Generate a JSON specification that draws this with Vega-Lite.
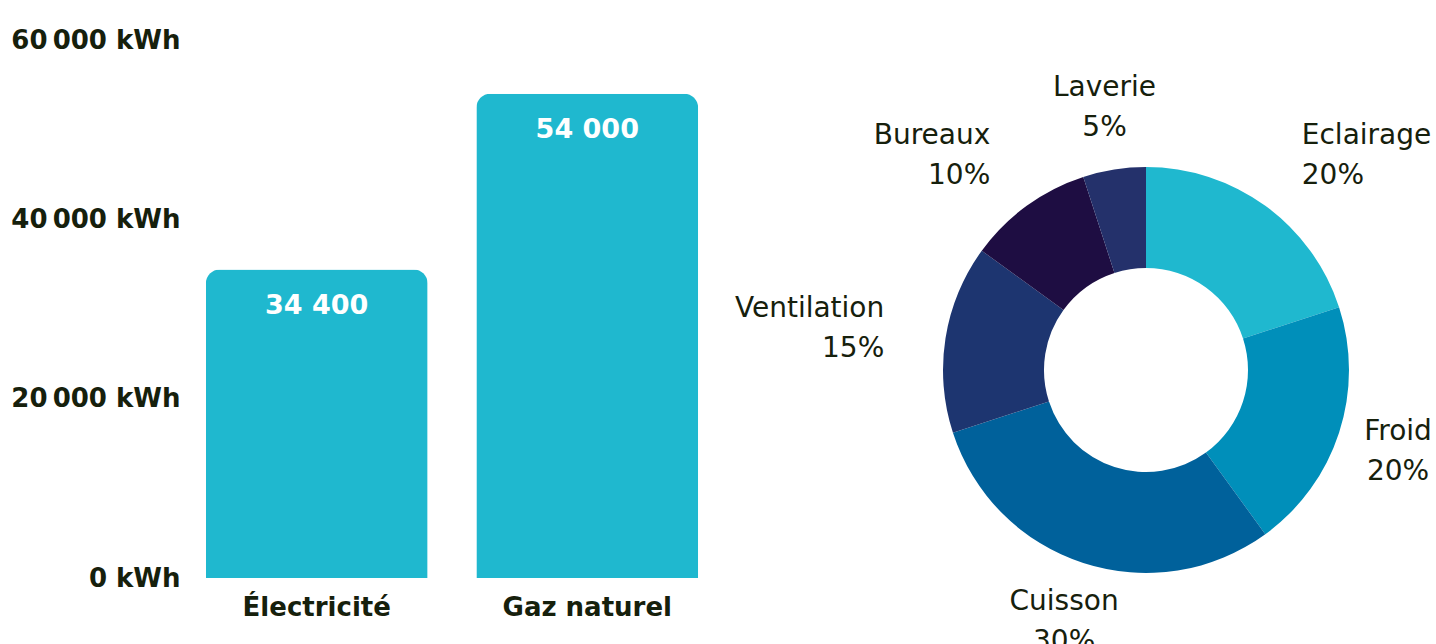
{
  "$schema": "https://vega.github.io/schema/vega-lite/v6.json",
  "background": "white",
  "padding": {"left": 10, "top": 27, "right": 0, "bottom": 0},
  "config": {"view": {"stroke": null}, "font": "DejaVu Sans"},
  "spacing": 137,
  "bounds": "flush",
  "datasets": {
    "energy": [
      {"source": "Électricité", "kwh": 34400},
      {"source": "Gaz naturel", "kwh": 54000}
    ],
    "usage": [
      {"usage": "Eclairage", "share": 20, "rank": 1},
      {"usage": "Froid", "share": 20, "rank": 2},
      {"usage": "Cuisson", "share": 30, "rank": 3},
      {"usage": "Ventilation", "share": 15, "rank": 4},
      {"usage": "Bureaux", "share": 10, "rank": 5},
      {"usage": "Laverie", "share": 5, "rank": 6}
    ]
  },
  "hconcat": [
    {
      "width": 514,
      "height": 538,
      "data": {"name": "energy"},
      "transform": [
        {"calculate": "replace(format(datum.kwh, ','), ',', ' ')", "as": "kwhLabel"}
      ],
      "encoding": {
        "x": {
          "field": "source",
          "type": "nominal",
          "sort": null,
          "scale": {"paddingInner": 0.18, "paddingOuter": 0.04},
          "axis": {
            "title": null,
            "labelAngle": 0,
            "labelFontSize": 26,
            "labelFontWeight": "bold",
            "labelColor": "#16200c",
            "labelPadding": 16,
            "ticks": false,
            "domain": false
          }
        },
        "y": {
          "field": "kwh",
          "type": "quantitative",
          "scale": {"domain": [0, 60000]},
          "axis": {
            "title": null,
            "values": [0, 20000, 40000, 60000],
            "labelExpr": "replace(format(datum.value, ','), ',', '\u202f') + ' kWh'",
            "grid": false,
            "domain": false,
            "ticks": false,
            "labelFlush": false,
            "labelFontSize": 26,
            "labelFontWeight": "bold",
            "labelColor": "#16200c",
            "labelPadding": 15
          }
        }
      },
      "layer": [
        {"mark": {"type": "bar", "color": "#1fb8cf", "cornerRadiusTopLeft": 14, "cornerRadiusTopRight": 14}},
        {
          "mark": {"type": "text", "color": "white", "fontSize": 27, "fontWeight": "bold", "dy": 36, "baseline": "middle"},
          "encoding": {"text": {"field": "kwhLabel"}}
        }
      ]
    },
    {
      "width": 600,
      "height": 660,
      "data": {"name": "usage"},
      "transform": [
        {"calculate": "datum.usage + '\\n' + datum.share + '%'", "as": "label"}
      ],
      "encoding": {
        "theta": {"field": "share", "type": "quantitative", "stack": true},
        "order": {"field": "rank", "type": "quantitative"}
      },
      "layer": [
        {
          "mark": {"type": "arc", "outerRadius": 203, "innerRadius": 102},
          "encoding": {
            "color": {
              "field": "usage",
              "type": "nominal",
              "scale": {
                "domain": ["Eclairage", "Froid", "Cuisson", "Ventilation", "Bureaux", "Laverie"],
                "range": ["#1fb8cf", "#008fba", "#00619b", "#1d3570", "#1e0d42", "#24316b"]
              },
              "legend": null
            }
          }
        },
        {
          "mark": {
            "type": "text",
            "radius": 265,
            "fontSize": 28,
            "color": "#16200c",
            "lineBreak": "\n",
            "lineHeight": 40,
            "baseline": "middle",
            "dy": -20,
            "align": {"expr": "(sin(PI*(datum.share_start+datum.share_end)/100) > 0.4 && cos(PI*(datum.share_start+datum.share_end)/100) > 0) ? 'left' : (sin(PI*(datum.share_start+datum.share_end)/100) < -0.4 ? 'right' : 'center')"}
          },
          "encoding": {
            "detail": {"field": "usage"},
            "text": {"field": "label"}
          }
        }
      ]
    }
  ]
}
